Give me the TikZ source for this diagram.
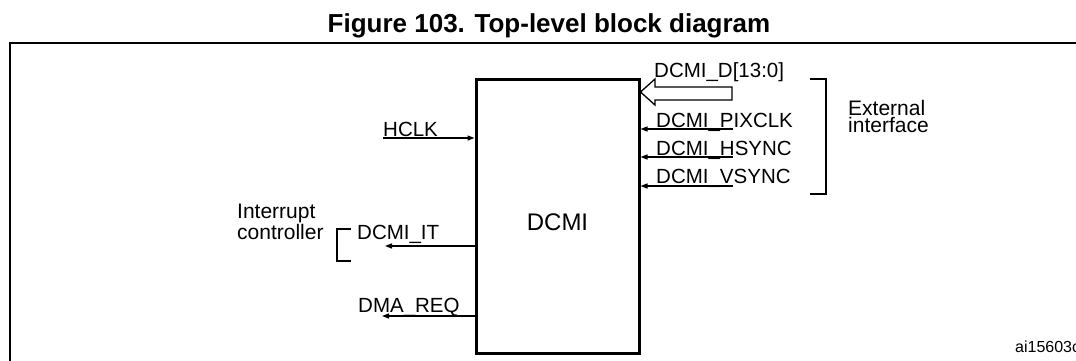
\documentclass[tikz,border=0pt]{standalone}
\usepackage{fontspec}
\setmainfont{Liberation Sans}
\usetikzlibrary{arrows.meta}
\tikzset{
  sig/.style={line width=1.3pt, -{Triangle[length=7pt,width=5pt]}},
  brk/.style={line width=2pt},
  lbl/.style={anchor=base west, inner sep=0pt, font=\fontsize{20.5}{17}\selectfont},
}
\begin{document}
\begin{tikzpicture}[x=1pt,y=-1pt]
\useasboundingbox (0,0) rectangle (1076,360);
\clip (0,0) rectangle (1076,360);
% title and frame
\node[anchor=base, inner sep=0pt, font=\fontsize{26}{26}\selectfont\bfseries] (title) at (549,32) {Figure 103. Top-level block diagram};
\draw[line width=2.5pt] (10,400) -- (10,43) -- (1100,43);
% block
\node[draw, line width=3pt, minimum width=163pt, minimum height=274pt, inner sep=0pt] (dcmi) at (557.5,216) {};
\node[inner sep=0pt, font=\fontsize{24}{24}\selectfont] (dcmilbl) at (557.5,222) {DCMI};
% inputs
\node[lbl] (hclk) at (383,136) {HCLK};
\draw[sig] (hclk.base west |- 0,138) -- (dcmi.west |- 0,138);
\node[lbl] (pixclk) at (656,127) {DCMI\_PIXCLK};
\draw[sig] (733,129) -- (dcmi.east |- 0,129);
\node[lbl] (hsync) at (656,155) {DCMI\_HSYNC};
\draw[sig] (733,157) -- (dcmi.east |- 0,157);
\node[lbl] (vsync) at (656,183) {DCMI\_VSYNC};
\draw[sig] (733,186) -- (dcmi.east |- 0,186);
\node[lbl] (data) at (654,77) {DCMI\_D[13:0]};
\draw[line width=1.3pt] (dcmi.east |- 0,92) -- (655,79) -- (655,87) -- (732,87) -- (732,100) -- (655,100) -- (655,105) -- cycle;
% external interface
\draw[brk] (810,79) -- (826,79) -- (826,194) -- (810,194);
\node[anchor=base west, inner sep=0pt, align=left, font=\fontsize{21}{17}\selectfont] (ext) at (848,132) {External\\interface};
% outputs
\node[lbl] (it) at (357,239) {DCMI\_IT};
\draw[sig] (dcmi.west |- 0,246) -- (385,246);
\node[lbl] (dma) at (358,312) {DMA\_REQ};
\draw[sig] (dcmi.west |- 0,316) -- (382,316);
\draw[brk] (351,229) -- (337,229) -- (337,261) -- (351,261);
\node[anchor=base west, inner sep=0pt, align=left, font=\fontsize{21}{18}\selectfont] (irq) at (237,239) {Interrupt\\controller};
\node[anchor=base west, inner sep=0pt, font=\fontsize{16}{16}\selectfont] (ref) at (1015,352) {ai15603c};
\end{tikzpicture}
\end{document}
